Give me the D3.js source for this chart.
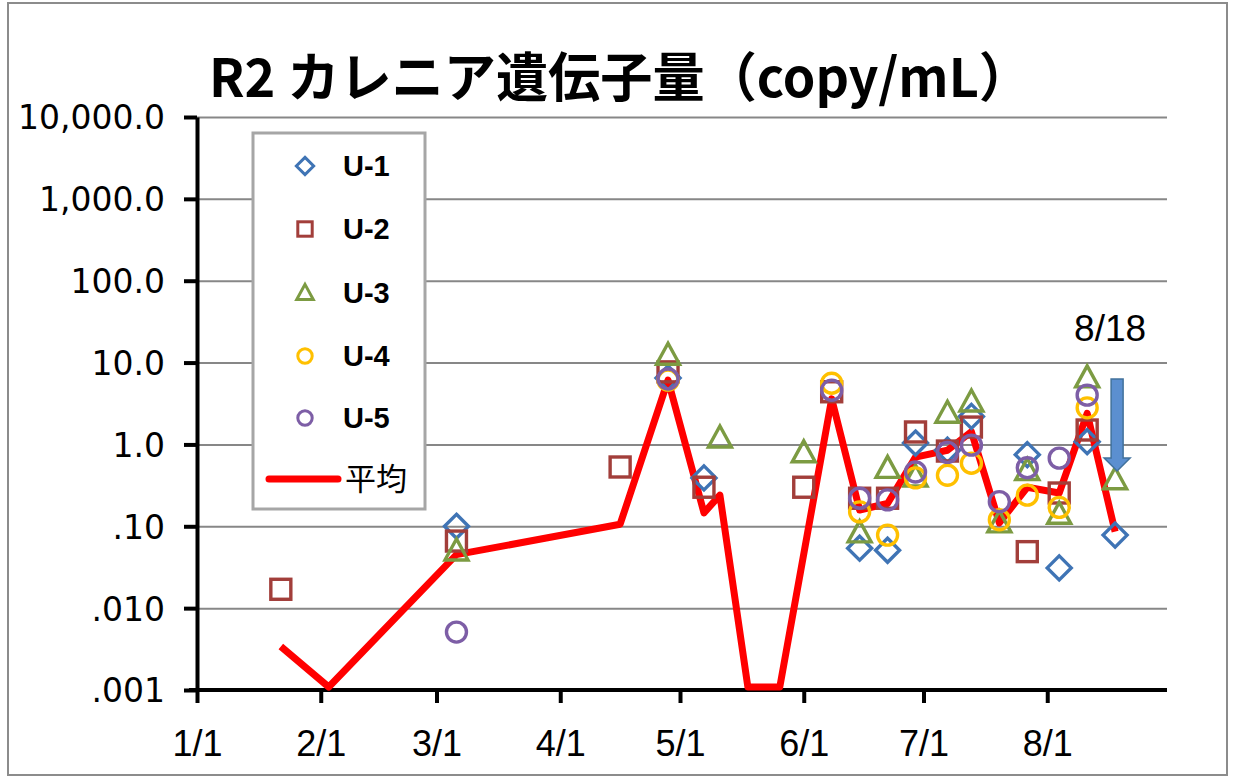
<!DOCTYPE html>
<html><head><meta charset="utf-8">
<script src="https://cdn.jsdelivr.net/npm/d3@7/dist/d3.min.js"></script>
<style>html,body{margin:0;padding:0;background:#fff;}svg{display:block;}</style>
</head><body>
<svg id="c" width="1233" height="780"></svg>
<script>
// ---- data ----
const dates = ["2020-01-22","2020-02-03","2020-03-06","2020-04-16","2020-04-28","2020-05-07","2020-05-11","2020-05-18","2020-05-26","2020-06-01","2020-06-08","2020-06-15","2020-06-22","2020-06-29","2020-07-07","2020-07-13","2020-07-20","2020-07-27","2020-08-04","2020-08-11","2020-08-18"];
const u1   = [null, null, 0.10, null, 6.5, 0.39, null, null, null, null, null, 0.054, 0.051, 1.04, 0.85, 2.2, null, 0.75, 0.031, 1.08, 0.078];
const u2   = [0.017, null, 0.066, 0.53, 7.7, 0.30, null, null, null, 0.30, 4.4, 0.22, 0.22, 1.42, 0.83, 1.63, null, 0.049, 0.255, 1.5, null];
const u3   = [null, null, 0.05, null, 12.3, null, 1.2, null, null, 0.79, null, 0.083, 0.51, 0.40, 2.4, 3.3, 0.11, 0.48, 0.14, 6.5, 0.37];
const u4   = [null, null, null, null, 6.1, null, null, null, null, null, 5.6, 0.15, 0.078, 0.39, 0.42, 0.59, 0.12, 0.24, 0.17, 2.8, null];
const u5   = [null, null, 0.0051, null, 6.3, null, null, null, null, null, 4.6, 0.22, 0.21, 0.46, 0.80, 0.98, 0.20, 0.52, 0.68, 4.0, null];
const mean = [0.0034, 0.001, 0.045, 0.106, 6.1, 0.146, 0.24, 0.001, 0.001, null, 3.6, 0.158, 0.19, 0.70, 0.85, 1.43, 0.11, 0.30, 0.255, 2.4, 0.086];
const seriesNames = ["U-1","U-2","U-3","U-4","U-5"];
const meanName = "平均";
const yTickValues = [10000, 1000, 100, 10, 1, 0.1, 0.01, 0.001];
const yTickLabels = ["10,000.0","1,000.0","100.0","10.0","1.0",".10",".010",".001"];
const xTickDates = ["2020-01-01","2020-02-01","2020-03-01","2020-04-01","2020-05-01","2020-06-01","2020-07-01","2020-08-01"];
const xTickLabels = ["1/1","2/1","3/1","4/1","5/1","6/1","7/1","8/1"];
const title = "R2 カレニア遺伝子量（copy/mL）";
const annotation = "8/18";
const annotationDate = "2020-08-18";

// ---- setup ----
const svg = d3.select("#c");
const parse = d3.utcParse("%Y-%m-%d");
const L = 197, R = 1167, T = 117, B = 690;
const x = d3.scaleUtc().domain([parse("2020-01-01"), parse("2020-08-31")]).range([L, R]);
const y = d3.scaleLog().domain([0.001, 10000]).range([B, T]);
const colors = ["#3f74b5", "#a23e3a", "#7c9b42", "#ffc000", "#7d5ea6"];
const shapes = ["diamond", "square", "triangle", "circle", "circle"];

// outer border
svg.append("rect").attr("x", 8).attr("y", 3).attr("width", 1219).attr("height", 772)
  .attr("fill", "#fff").attr("stroke", "#8c8c8c").attr("stroke-width", 2);

// title
svg.append("text").attr("x", 620).attr("y", 97).attr("text-anchor", "middle")
  .attr("font-family", "'Noto Sans CJK JP', sans-serif").attr("font-weight", "bold")
  .attr("font-size", 53).attr("textLength", 822).attr("lengthAdjust", "spacingAndGlyphs")
  .attr("fill", "#000").text(title);

// gridlines
const grid = svg.append("g").attr("transform", `translate(${L},0)`)
  .call(d3.axisLeft(y).tickValues(yTickValues.slice(0, -1)).tickSize(-(R - L)).tickFormat(""));
grid.select(".domain").remove();
grid.selectAll("line").attr("stroke", "#878787").attr("stroke-width", 2);

// y axis
const yAx = svg.append("g").attr("transform", `translate(${L},0)`)
  .call(d3.axisLeft(y).tickValues(yTickValues).tickSize(13).tickSizeOuter(0)
    .tickFormat((d, i) => yTickLabels[i]).tickPadding(19));
yAx.select(".domain").attr("stroke", "#000").attr("stroke-width", 4);
yAx.selectAll("line").attr("stroke", "#000").attr("stroke-width", 4);
yAx.selectAll("text").attr("font-family", "'DejaVu Sans', Verdana, sans-serif").attr("font-size", 33)
  .attr("fill", "#000").attr("dy", "0.36em");

// x axis
const xAx = svg.append("g").attr("transform", `translate(0,${B})`)
  .call(d3.axisBottom(x).tickValues(xTickDates.map(parse)).tickSize(13).tickSizeOuter(0)
    .tickFormat((d, i) => xTickLabels[i]).tickPadding(27));
xAx.select(".domain").attr("stroke", "#000").attr("stroke-width", 4).attr("d", `M${L - 8},0H${R}`);
xAx.selectAll("line").attr("stroke", "#000").attr("stroke-width", 4);
xAx.selectAll("text").attr("font-family", "'Liberation Sans Narrow', 'Arial Narrow', sans-serif")
  .attr("font-size", 36).attr("fill", "#000").attr("dy", "0.71em");

// mean line
const meanPts = dates.map((d, i) => ({ d: parse(d), v: mean[i] })).filter(p => p.v != null);
svg.append("path").datum(meanPts)
  .attr("d", d3.line().x(p => x(p.d)).y(p => Math.min(y(p.v), B - 3)))
  .attr("fill", "none").attr("stroke", "#ff0000").attr("stroke-width", 7).attr("stroke-linejoin", "round");

// markers
function marker(sel, shape, s) {
  if (shape === "circle") return sel.append("circle").attr("r", 10 * s);
  if (shape === "square") return sel.append("rect").attr("x", -10 * s).attr("y", -10 * s).attr("width", 20 * s).attr("height", 20 * s);
  if (shape === "diamond") return sel.append("path").attr("d", `M0,${-12 * s}L${12 * s},0L0,${12 * s}L${-12 * s},0Z`);
  if (shape === "triangle") return sel.append("path").attr("d", `M0,${-12 * s}L${11.5 * s},${9 * s}L${-11.5 * s},${9 * s}Z`);
}
[u1, u2, u3, u4, u5].forEach((arr, k) => {
  const g = svg.append("g");
  dates.forEach((d, i) => {
    if (arr[i] == null) return;
    const m = g.append("g").attr("transform", `translate(${x(parse(d))},${y(arr[i])})`);
    marker(m, shapes[k], 1).attr("fill", "none").attr("stroke", colors[k]).attr("stroke-width", 3.4);
  });
});

// annotation
const ax = x(parse(annotationDate)) + 2;
svg.append("text").attr("x", ax - 7).attr("y", 341).attr("text-anchor", "middle")
  .attr("font-family", "'Liberation Sans Narrow', 'Arial Narrow', sans-serif").attr("font-size", 37)
  .attr("fill", "#000").text(annotation);
svg.append("path")
  .attr("d", `M${ax - 6},379H${ax + 6}V458H${ax + 13}L${ax},471L${ax - 13},458H${ax - 6}Z`)
  .attr("fill", "#5b8fd0").attr("stroke", "#41719c").attr("stroke-width", 1.5);

// legend
const lg = svg.append("g");
lg.append("rect").attr("x", 253).attr("y", 133).attr("width", 172).attr("height", 376)
  .attr("fill", "#fff").attr("stroke", "#a6a6a6").attr("stroke-width", 3);
const ly = [166, 229, 293, 356, 418];
seriesNames.forEach((n, k) => {
  const m = lg.append("g").attr("transform", `translate(305,${ly[k]})`);
  marker(m, shapes[k], 0.72).attr("fill", "none").attr("stroke", colors[k]).attr("stroke-width", 3);
  lg.append("text").attr("x", 343).attr("y", ly[k]).attr("dy", "0.36em")
    .attr("font-family", "'Liberation Sans', Arial, sans-serif").attr("font-weight", "bold").attr("font-size", 29)
    .attr("fill", "#000").text(n);
});
lg.append("line").attr("x1", 269).attr("x2", 338).attr("y1", 479).attr("y2", 479)
  .attr("stroke", "#ff0000").attr("stroke-width", 7).attr("stroke-linecap", "round");
lg.append("text").attr("x", 345).attr("y", 479).attr("dy", "0.36em")
  .attr("font-family", "'Noto Sans CJK JP', sans-serif").attr("font-size", 31).attr("fill", "#000").text(meanName);
</script>
</body></html>
